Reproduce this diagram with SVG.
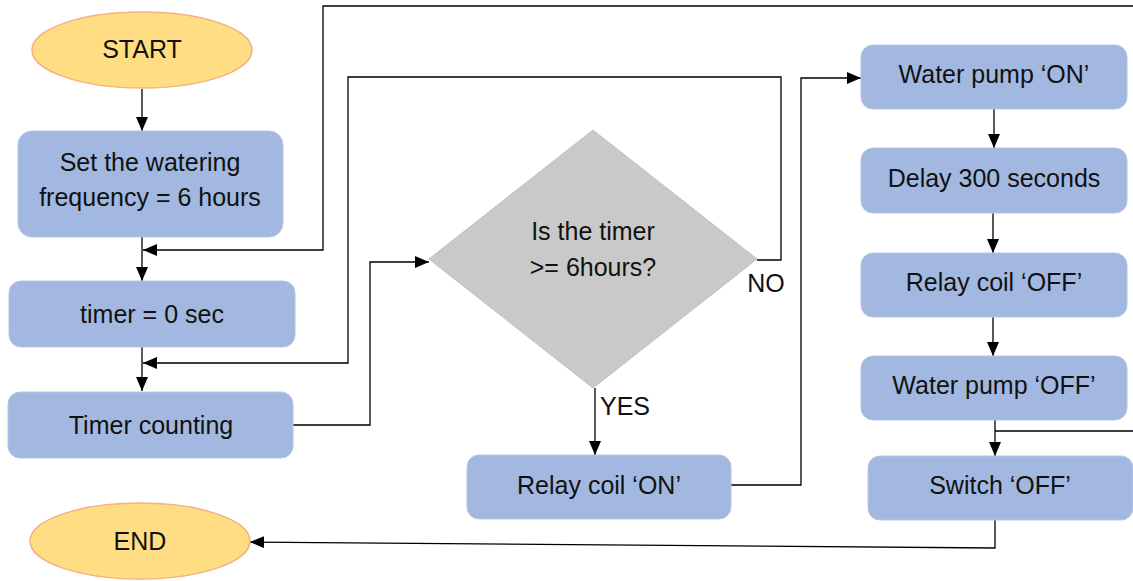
<svg xmlns="http://www.w3.org/2000/svg" width="1133" height="581" viewBox="0 0 1133 581">
<defs>
<marker id="ah" markerUnits="userSpaceOnUse" markerWidth="14" markerHeight="12" refX="14" refY="6" orient="auto">
<path d="M0,0 L14,6 L0,12 z" fill="#000"/>
</marker>
<style>
.box{fill:#A2B8E0;stroke:#B4C6E7;stroke-width:1}
.term{fill:#FFDE83;stroke:#F4B183;stroke-width:1.5}
.dec{fill:#C9C9C9;stroke:#BFBFBF;stroke-width:1}
.t{font-family:"Liberation Sans",Arial,sans-serif;font-size:25px;fill:#111;text-anchor:middle}
.c{fill:none;stroke:#000;stroke-width:1.3}
.a{marker-end:url(#ah)}
</style>
</defs>
<rect width="1133" height="581" fill="#fff"/>
<g id="connectors">
<path class="c a" d="M142,89 V131"/>
<path class="c a" d="M142,237 V281"/>
<path class="c a" d="M995,431 H1136 V6 H323 V250 H143"/>
<path class="c a" d="M142,347 V391"/>
<path class="c a" d="M757,260 H781 V77 H348 V363 H143"/>
<path class="c a" d="M293,425 H370 V262 H429"/>
<path class="c a" d="M595,388 V455"/>
<path class="c a" d="M731,485 H801 V78 H861"/>
<path class="c a" d="M994,109 V148"/>
<path class="c a" d="M993,213 V253"/>
<path class="c a" d="M993,317 V356"/>
<path class="c a" d="M995,420 V456"/>
<path class="c a" d="M995,520 V548 L250,542"/>
</g>
<g id="start"><ellipse class="term" cx="142" cy="50" rx="110" ry="38"/><text class="t" x="142" y="58">START</text></g>
<g id="set-frequency"><rect class="box" x="18" y="131" width="265" height="106" rx="14"/><text class="t" x="150" y="171">Set the watering</text><text class="t" x="150" y="206">frequency = 6 hours</text></g>
<g id="timer-zero"><rect class="box" x="9" y="281" width="286" height="66" rx="12"/><text class="t" x="152" y="323">timer = 0 sec</text></g>
<g id="timer-counting"><rect class="box" x="8" y="392" width="285" height="66" rx="12"/><text class="t" x="151" y="434">Timer counting</text></g>
<g id="decision"><polygon class="dec" points="593,130 757,259 593,388 429,259"/><text class="t" x="593" y="240">Is the timer</text><text class="t" x="593" y="276">&gt;= 6hours?</text></g>
<g id="label-no"><text class="t" x="766" y="292" font-size="22">NO</text></g>
<g id="label-yes"><text class="t" x="625" y="415" font-size="22">YES</text></g>
<g id="relay-on"><rect class="box" x="467" y="455" width="264" height="64" rx="12"/><text class="t" x="599" y="494">Relay coil ‘ON’</text></g>
<g id="end"><ellipse class="term" cx="140" cy="541" rx="110" ry="38"/><text class="t" x="140" y="550">END</text></g>
<g id="pump-on"><rect class="box" x="861" y="45" width="266" height="64" rx="12"/><text class="t" x="994" y="83">Water pump ‘ON’</text></g>
<g id="delay"><rect class="box" x="861" y="148" width="266" height="65" rx="12"/><text class="t" x="994" y="187">Delay 300 seconds</text></g>
<g id="relay-off"><rect class="box" x="861" y="253" width="266" height="64" rx="12"/><text class="t" x="994" y="291">Relay coil ‘OFF’</text></g>
<g id="pump-off"><rect class="box" x="861" y="356" width="266" height="64" rx="12"/><text class="t" x="994" y="394">Water pump ‘OFF’</text></g>
<g id="switch-off"><rect class="box" x="868" y="456" width="265" height="64" rx="12"/><text class="t" x="1000" y="494">Switch ‘OFF’</text></g>
</svg>
